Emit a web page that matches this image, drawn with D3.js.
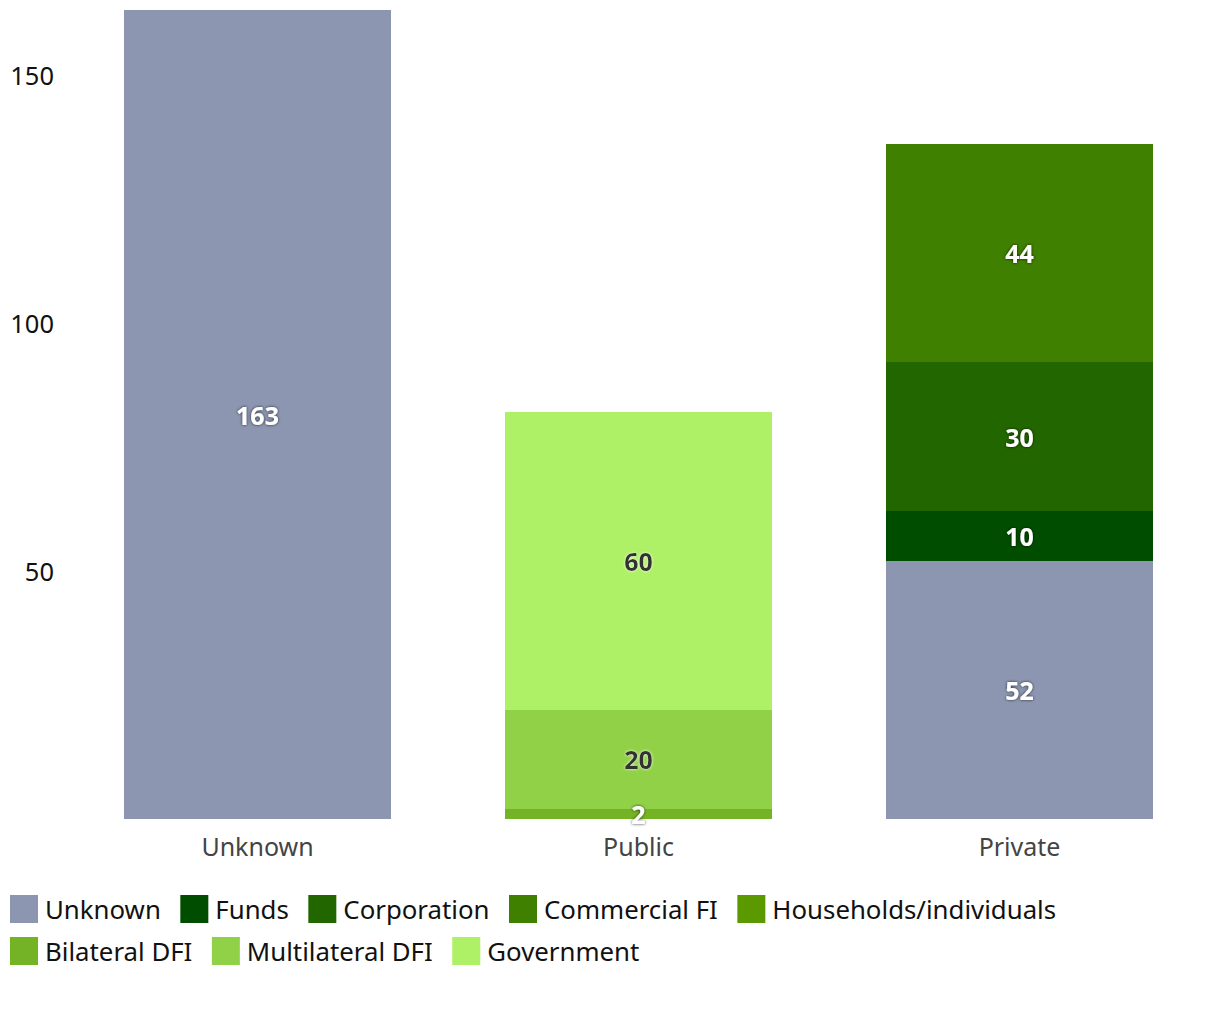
<!DOCTYPE html>
<html><head><meta charset="utf-8">
<script src="https://cdn.jsdelivr.net/npm/d3@7/dist/d3.min.js"></script>
<style>
body{margin:0;background:#fff;}
text{font-family:"Noto Sans","Open Sans",sans-serif;}
</style></head>
<body><svg id="chart" width="1220" height="1020"></svg>
<script>
const categories = ["Unknown","Public","Private"];
const seriesNames = ["Unknown","Funds","Corporation","Commercial FI","Households/individuals","Bilateral DFI","Multilateral DFI","Government"];
const seriesColors = ["#8c96b0","#004d00","#226600","#3f8000","#5a9900","#75b326","#91d147","#aef066"];
const labelDark = [false,false,false,false,false,false,true,true];
// values per series, in category order [Unknown, Public, Private]
const valUnknown = [163, 0, 52];
const valFunds = [0, 0, 10];
const valCorporation = [0, 0, 30];
const valCommercial = [0, 0, 44];
const valHouseholds = [0, 0, 0];
const valBilateral = [0, 2, 0];
const valMultilateral = [0, 20, 0];
const valGovernment = [0, 60, 0];
const yTicks = [50, 100, 150];

const seriesValues = [valUnknown,valFunds,valCorporation,valCommercial,valHouseholds,valBilateral,valMultilateral,valGovernment];
const table = categories.map((c,i)=>{const o={cat:c}; seriesNames.forEach((s,j)=>o[s]=seriesValues[j][i]); return o;});
const stack = d3.stack().keys(seriesNames)(table);

const svg = d3.select("#chart");
const defs = svg.append("defs");
const f1 = defs.append("filter").attr("id","shDark").attr("x","-20%").attr("y","-20%").attr("width","140%").attr("height","140%");
f1.append("feDropShadow").attr("dx",0).attr("dy",0).attr("stdDeviation",1.6).attr("flood-color","#000").attr("flood-opacity",0.75);
const f2 = defs.append("filter").attr("id","shLight").attr("x","-20%").attr("y","-20%").attr("width","140%").attr("height","140%");
f2.append("feDropShadow").attr("dx",0).attr("dy",0).attr("stdDeviation",1.6).attr("flood-color","#fff").attr("flood-opacity",0.9);

const x = d3.scaleBand().domain(categories).range([67,1210]).paddingInner(0.3).paddingOuter(0.15);
const y = d3.scaleLinear().domain([0,163]).range([819,10]);

// y axis
const yAxis = svg.append("g").attr("transform","translate(54,1.5)")
  .call(d3.axisLeft(y).tickValues(yTicks).tickSize(0).tickPadding(0));
yAxis.select(".domain").remove();
yAxis.selectAll("text").attr("font-size",25.5).attr("fill","#111").attr("font-family","Noto Sans");

// bars
stack.forEach((layer,j)=>{
  svg.append("g").attr("fill",seriesColors[j]).attr("shape-rendering","crispEdges")
    .selectAll("rect").data(layer).join("rect")
    .attr("x",d=>x(d.data.cat)).attr("width",x.bandwidth())
    .attr("y",d=>y(d[1])).attr("height",d=>y(d[0])-y(d[1]));
});
// labels
stack.forEach((layer,j)=>{
  svg.append("g").selectAll("text").data(layer.filter(d=>d[1]-d[0]>0)).join("text")
    .attr("x",d=>x(d.data.cat)+x.bandwidth()/2)
    .attr("y",d=>(y(d[0])+y(d[1]))/2)
    .attr("text-anchor","middle").attr("dominant-baseline","central")
    .attr("font-size",25).attr("font-weight","bold")
    .attr("fill",labelDark[j]?"#333":"#fff")
    .attr("filter",labelDark[j]?"url(#shLight)":"url(#shDark)")
    .text(d=>d[1]-d[0]);
});

// x axis
const xAxis = svg.append("g").attr("transform","translate(0,819)")
  .call(d3.axisBottom(x).tickSize(0).tickPadding(19));
xAxis.select(".domain").remove();
xAxis.selectAll("text").attr("font-size",25).attr("fill","#444").attr("font-family","Noto Sans");

// legend
const legend = svg.append("g");
let lx = 10, ly = 895;
const rows = [[0,1,2,3,4],[5,6,7]];
rows.forEach((row,r)=>{
  lx = 10;
  row.forEach(j=>{
    const g = legend.append("g").attr("transform",`translate(${lx},${ly + r*42})`);
    g.append("rect").attr("width",28).attr("height",28).attr("fill",seriesColors[j]);
    const t = g.append("text").attr("x",35).attr("y",14).attr("dominant-baseline","central")
      .attr("font-size",25.8).attr("fill","#111").text(seriesNames[j]);
    lx += 35 + t.node().getComputedTextLength() + 19.5;
  });
});
</script></body></html>
